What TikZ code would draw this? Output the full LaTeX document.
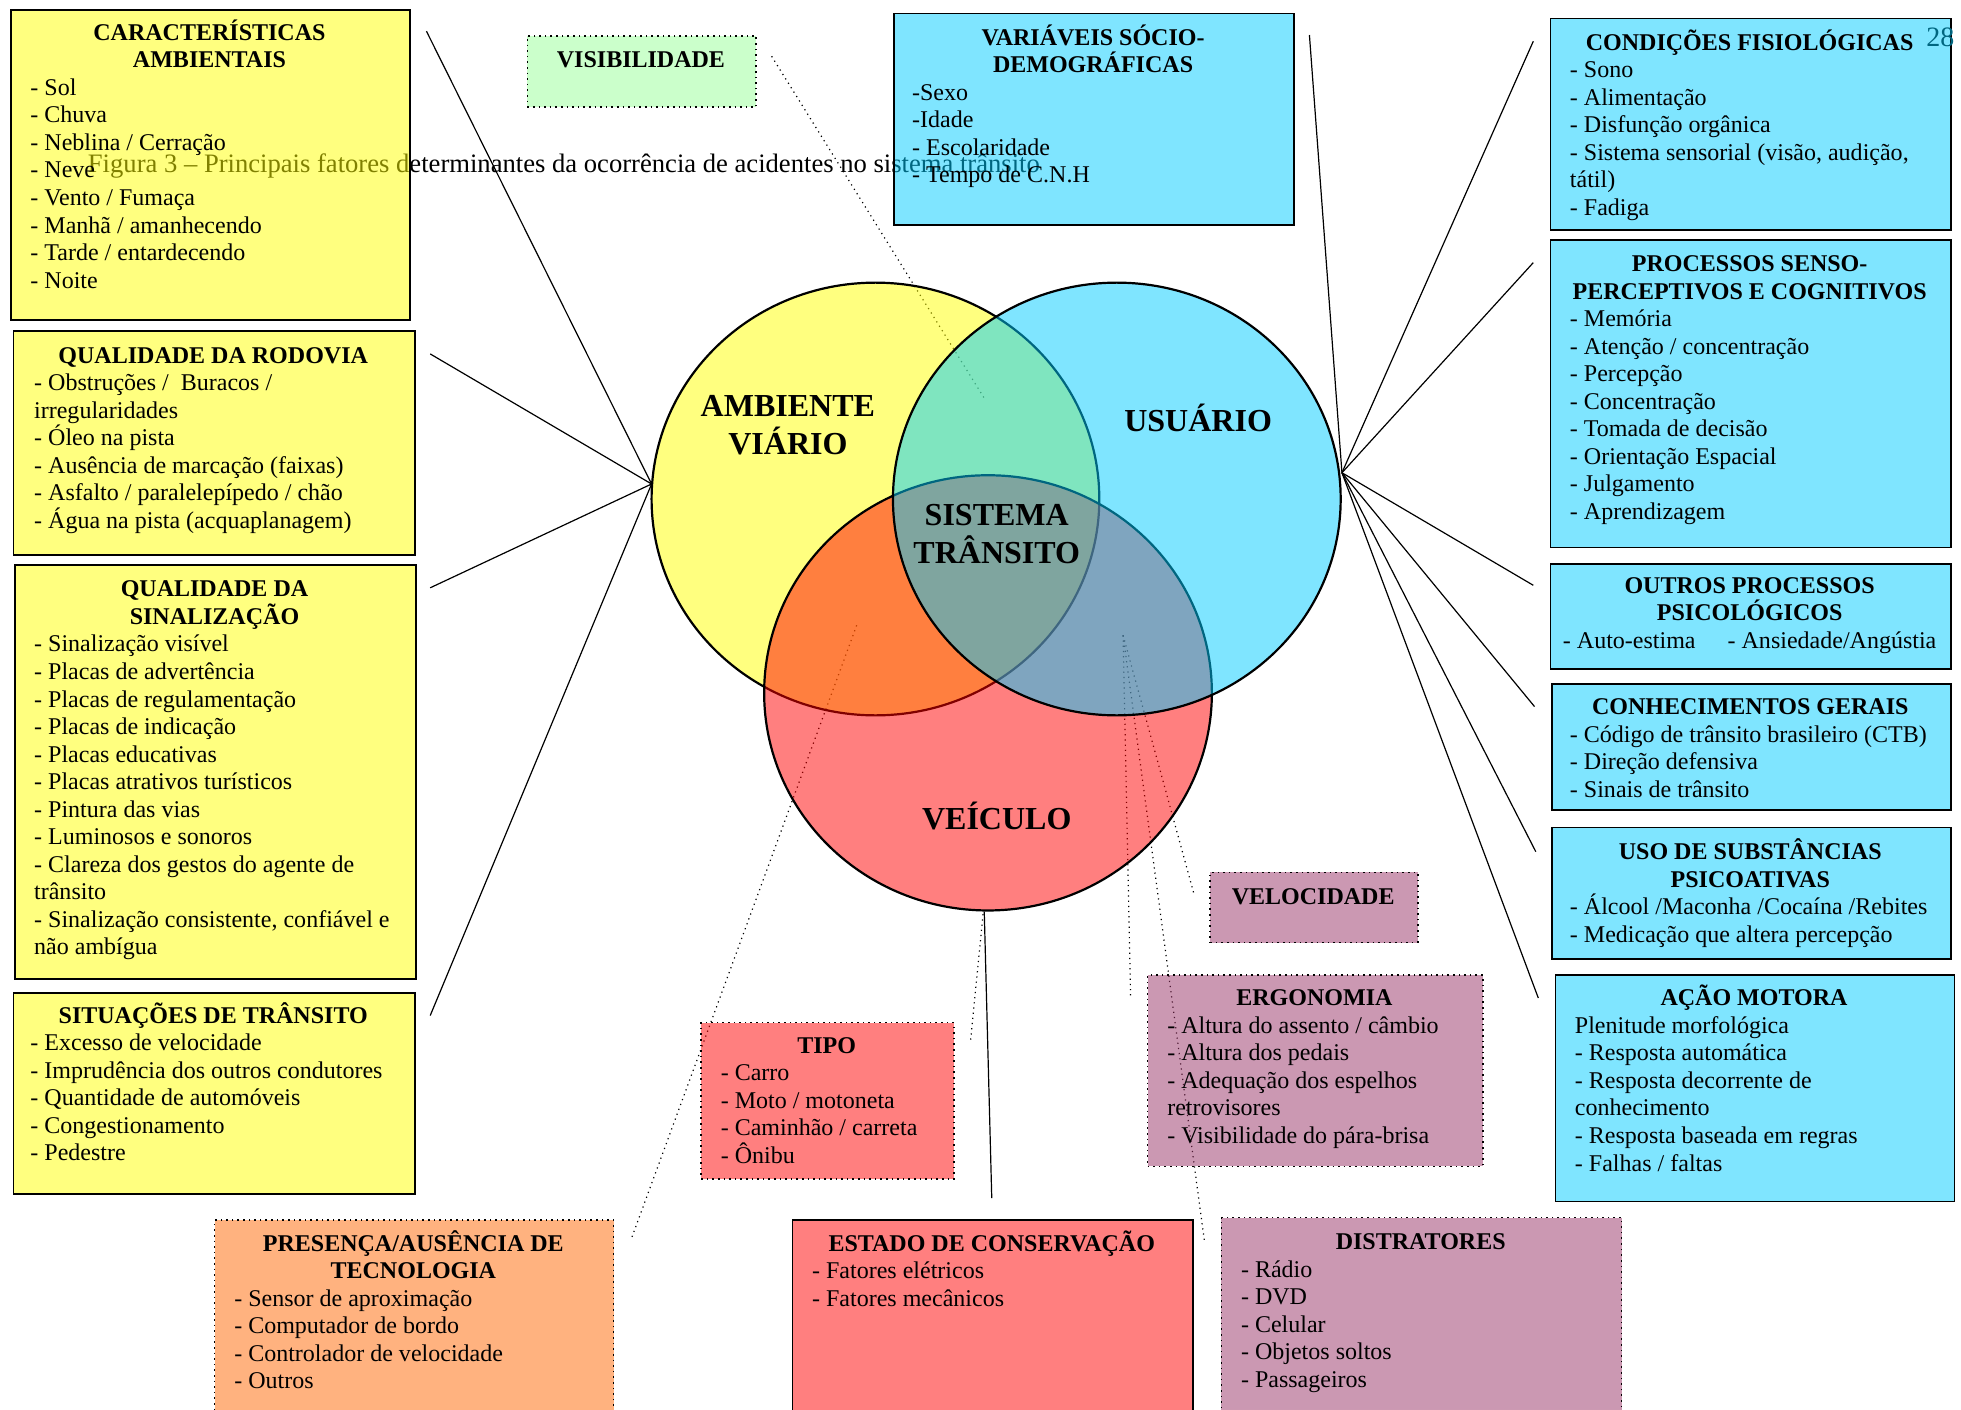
\documentclass[tikz,border=0pt]{standalone}
\usepackage{fontspec}
\setmainfont{Liberation Serif}
\definecolor{cy}{HTML}{00CCFF}
\definecolor{ye}{HTML}{FFFF00}
\definecolor{re}{HTML}{FF0000}
\definecolor{gr}{HTML}{99FF99}
\definecolor{orc}{HTML}{FF6600}
\definecolor{mv}{HTML}{993366}
\definecolor{tealc}{HTML}{006680}
\newcommand\fstrut{\rule{0pt}{12pt}}
\newcommand\bx[6]{\node[#2, anchor=north west, minimum width={(#5-#3)*0.625pt}, minimum height={(#6-#4)*0.625pt}] (#1) at (#3,#4) {};}
\newcommand\bttl[4]{\node[ttl] (#1) at (#2,{#3-19.2}) {\fstrut #4};}
\newcommand\bitm[4]{\node[itm] (#1) at (#2,{#3-19.2}) {\fstrut #4};}
\tikzset{
 sbox/.style={rectangle, draw=black, line width=0.9pt, fill opacity=0.5, inner sep=0},
 dbox/.style={rectangle, draw=black, line width=0.8pt, dotted, fill opacity=0.5, inner sep=0},
 ttl/.style={anchor=north, align=center, inner sep=0, font=\bfseries\fontsize{12}{13.75}\selectfont},
 itm/.style={anchor=north west, align=left, inner sep=0, font=\fontsize{12}{13.75}\selectfont},
 conn/.style={draw=black, line width=0.6pt},
 dconn/.style={draw=black, line width=0.6pt, dotted},
 venn/.style={draw=black, line width=1.1pt, fill opacity=0.5},
 big/.style={anchor=north, align=center, inner sep=0, font=\bfseries\fontsize{16}{18.75}\selectfont}
}
\begin{document}
\begin{tikzpicture}[x=0.625pt, y=-0.625pt]
\fill[white] (0,0) rectangle (1568,1127);
\useasboundingbox (0,0) rectangle (1568,1127);

% caption (under the boxes)
\node[anchor=base west, inner sep=0, font=\fontsize{13.3}{15}\selectfont] (cap) at (70,138) {Figura 3 – Principais fatores determinantes da ocorrência de acidentes no sistema trânsito};

% hubs and free ends
\coordinate (Lh) at (521,387);
\coordinate (Rh) at (1073,378);
\coordinate (Bh) at (898,508);
\coordinate (Vb) at (787,729);
\coordinate (Vt) at (786,731);
\coordinate (Or) at (685,500);
\coordinate (Gr) at (788,320);

\coordinate (l1) at (341,25);
\coordinate (l2) at (344,283);
\coordinate (l3) at (344,470);
\coordinate (l4) at (344,812);
\coordinate (r0) at (1047,28);
\coordinate (r1) at (1226,33);
\coordinate (r2) at (1226,210);
\coordinate (r3) at (1226,468);
\coordinate (r4) at (1227,565);
\coordinate (r5) at (1228,681);
\coordinate (r6) at (1230,798);
\coordinate (b1) at (793,958);
\coordinate (vise) at (617,45);
\coordinate (tipe) at (776,833);
\coordinate (pree) at (505,990);
\coordinate (erge) at (904,796);
\coordinate (vele) at (955,716);
\coordinate (dise) at (963,992);

\foreach \e in {l1,l2,l3,l4} \draw[conn] (\e) -- (Lh);
\foreach \e in {r0,r1,r2,r3,r4,r5,r6} \draw[conn] (\e) -- (Rh);
\draw[conn] (Vb) -- (b1);
\draw[dconn] (vise) -- (Gr);
\draw[dconn] (Vt) -- (tipe);
\draw[dconn] (Or) -- (pree);
\draw[dconn] (Bh) -- (erge);
\draw[dconn] (Bh) -- (vele);
\draw[dconn] (Bh) -- (dise);

% Venn
\draw[venn, fill=ye] (700,399) ellipse [x radius=111.875pt, y radius=108.125pt];
\draw[venn, fill=re] (790,554) ellipse [x radius=111.875pt, y radius=108.75pt];
\draw[venn, fill=cy] (893,399) ellipse [x radius=111.875pt, y radius=108.125pt];

\node[big] (amb) at (630,{333-25.6}) {\rule{0pt}{16pt}AMBIENTE\\VIÁRIO};
\node[big] (usu) at (958,{345-25.6}) {\rule{0pt}{16pt}USUÁRIO};
\node[big] (sis) at (797,{420-25.6}) {\rule{0pt}{16pt}SISTEMA\\TRÂNSITO};
\node[big] (vei) at (797,{663-25.6}) {\rule{0pt}{16pt}VEÍCULO};

% left column
\bx{car}{sbox,fill=ye}{8}{7}{327}{255}
\bttl{cart}{167.5}{32}{CARACTERÍSTICAS\\AMBIENTAIS}
\bitm{cari}{24}{76}{- Sol\\- Chuva\\- Neblina / Cerração\\- Neve\\- Vento / Fumaça\\- Manhã / amanhecendo\\- Tarde / entardecendo\\- Noite}

\bx{rod}{sbox,fill=ye}{10}{264}{331}{443}
\bttl{rodt}{170.5}{290}{QUALIDADE DA RODOVIA}
\bitm{rodi}{27}{312}{- Obstruções /\ \ Buracos /\\irregularidades\\- Óleo na pista\\- Ausência de marcação (faixas)\\- Asfalto / paralelepípedo / chão\\- Água na pista (acquaplanagem)}

\bx{sin}{sbox,fill=ye}{11}{451}{332}{782}
\bttl{sint}{171.5}{477}{QUALIDADE DA\\SINALIZAÇÃO}
\bitm{sini}{27}{521}{- Sinalização visível\\- Placas de advertência\\- Placas de regulamentação\\- Placas de indicação\\- Placas educativas\\- Placas atrativos turísticos\\- Pintura das vias\\- Luminosos e sonoros\\- Clareza dos gestos do agente de\\trânsito\\- Sinalização consistente, confiável e\\não ambígua}

\bx{sit}{sbox,fill=ye}{10}{793}{331}{954}
\bttl{sitt}{170.5}{818}{SITUAÇÕES DE TRÂNSITO}
\bitm{siti}{24}{840}{- Excesso de velocidade\\- Imprudência dos outros condutores\\- Quantidade de automóveis\\- Congestionamento\\- Pedestre}

\bx{pre}{dbox,fill=orc}{171}{975}{490}{1145}
\bttl{pret}{330.5}{1000}{PRESENÇA/AUSÊNCIA DE\\TECNOLOGIA}
\bitm{prei}{187}{1044}{- Sensor de aproximação\\- Computador de bordo\\- Controlador de velocidade\\- Outros}

% middle
\bx{vis}{dbox,fill=gr}{421}{28}{604}{85}
\bttl{vist}{512.5}{54}{VISIBILIDADE}

\bx{var}{sbox,fill=cy}{714}{10}{1034}{179}
\bttl{vart}{874}{36}{VARIÁVEIS SÓCIO-\\DEMOGRÁFICAS}
\bitm{vari}{729}{80}{-Sexo\\-Idade\\- Escolaridade\\- Tempo de C.N.H}

\bx{tip}{dbox,fill=re}{560}{817}{762}{942}
\bttl{tipt}{661}{842}{TIPO}
\bitm{tipi}{576}{864}{- Carro\\- Moto / motoneta\\- Caminhão / carreta\\- Ônibu}

\bx{est}{sbox,fill=re}{633}{975}{953}{1145}
\bttl{estt}{793}{1000}{ESTADO DE CONSERVAÇÃO}
\bitm{esti}{649}{1022}{- Fatores elétricos\\- Fatores mecânicos}

\bx{vel}{dbox,fill=mv}{967}{697}{1133}{753}
\bttl{velt}{1050}{723}{VELOCIDADE}

\bx{erg}{dbox,fill=mv}{917}{779}{1185}{932}
\bttl{ergt}{1051}{804}{ERGONOMIA}
\bitm{ergi}{933}{826}{- Altura do assento / câmbio\\- Altura dos pedais\\- Adequação dos espelhos\\retrovisores\\- Visibilidade do pára-brisa}

\bx{dis}{dbox,fill=mv}{976}{973}{1296}{1145}
\bttl{dist}{1136}{999}{DISTRATORES}
\bitm{disi}{992}{1021}{- Rádio\\- DVD\\- Celular\\- Objetos soltos\\- Passageiros}

% right column
\bx{con}{sbox,fill=cy}{1239}{14}{1559}{183}
\bttl{cont}{1399}{40}{CONDIÇÕES FISIOLÓGICAS}
\bitm{coni}{1255}{62}{- Sono\\- Alimentação\\- Disfunção orgânica\\- Sistema sensorial (visão, audição,\\tátil)\\- Fadiga}

\bx{pro}{sbox,fill=cy}{1239}{191}{1559}{437}
\bttl{prot}{1399}{217}{PROCESSOS SENSO-\\PERCEPTIVOS E COGNITIVOS}
\bitm{proi}{1255}{261}{- Memória\\- Atenção / concentração\\- Percepção\\- Concentração\\- Tomada de decisão\\- Orientação Espacial\\- Julgamento\\- Aprendizagem}

\bx{out}{sbox,fill=cy}{1239}{450}{1559}{534}
\bttl{outt}{1399}{474}{OUTROS PROCESSOS\\PSICOLÓGICOS\\\mdseries - Auto-estima\hspace{16pt}- Ansiedade/Angústia}

\bx{cnh}{sbox,fill=cy}{1240}{546}{1559}{647}
\bttl{cnht}{1399.5}{571}{CONHECIMENTOS GERAIS}
\bitm{cnhi}{1255}{593}{- Código de trânsito brasileiro (CTB)\\- Direção defensiva\\- Sinais de trânsito}

\bx{uso}{sbox,fill=cy}{1240}{661}{1559}{766}
\bttl{usot}{1399.5}{687}{USO DE SUBSTÂNCIAS\\PSICOATIVAS}
\bitm{usoi}{1255}{731}{- Álcool /Maconha /Cocaína /Rebites\\- Medicação que altera percepção}

\bx{aca}{sbox,fill=cy}{1243}{779}{1562}{960}
\bttl{acat}{1402.5}{804}{AÇÃO MOTORA}
\bitm{acai}{1259}{826}{Plenitude morfológica\\- Resposta automática\\- Resposta decorrente de\\conhecimento\\- Resposta baseada em regras\\- Falhas / faltas}

\node[anchor=base east, inner sep=0, text=tealc, font=\fontsize{14}{16}\selectfont] (pg) at (1563,37) {28};
\end{tikzpicture}
\end{document}
